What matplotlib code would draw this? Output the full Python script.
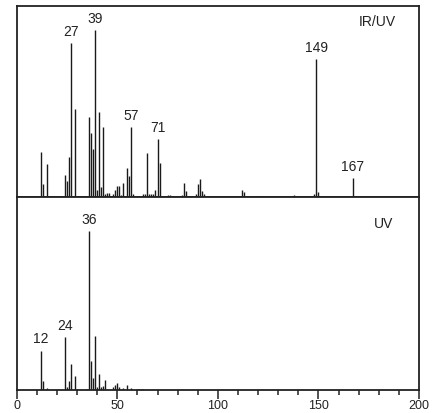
import matplotlib
matplotlib.use("Agg")
import matplotlib.pyplot as plt
from matplotlib.ticker import MultipleLocator

plt.rcParams['font.family'] = ['Liberation Sans', 'DejaVu Sans']

# IR/UV spectrum (m/z, relative intensity)
iruv_mz = [12, 13, 15, 24, 25, 26, 27, 29, 36, 37, 38, 39, 40, 41, 42, 43,
           44, 45, 46, 48, 49, 50, 51, 52, 53, 55, 56, 57, 58, 63, 64, 65,
           66, 67, 68, 69, 70, 71, 75, 76, 82, 83, 84, 89, 90, 91, 92, 93,
           112, 113, 121, 122, 138, 148, 149, 150, 167]
iruv_int = [23.7, 6.8, 17.3, 11.5, 8.5, 21.1, 80.8, 45.9, 41.7, 33.3, 25.0, 87.4, 3.7, 44.7, 5.4, 36.8,
            1.5, 2.3, 2.0, 1.4, 3.7, 5.8, 5.8, 1.0, 7.2, 15.0, 11.0, 36.8, 1.4, 1.4, 1.4, 23.2,
            1.4, 1.4, 1.4, 3.7, 30.4, 17.6, 1.0, 1.0, 1.0, 7.3, 3.0, 1.5, 6.8, 9.4, 3.1, 1.5,
            3.7, 2.6, 0.6, 0.6, 1.0, 1.5, 72.1, 2.6, 10.1]

# UV spectrum
uv_mz = [12, 13, 15, 24, 25, 26, 27, 29, 30, 35, 36, 37, 38, 39, 40, 41,
         42, 43, 44, 48, 49, 50, 51, 53, 55, 57, 60, 61, 62, 63]
uv_int = [20.4, 4.8, 1.0, 27.6, 1.7, 4.7, 13.5, 7.4, 0.5, 0.5, 82.5, 15.0, 6.3, 27.8, 1.5, 8.3,
          1.5, 2.0, 5.2, 1.3, 2.6, 3.4, 1.5, 0.8, 2.5, 0.9, 0.5, 0.5, 0.5, 0.5]

iruv_labels = [27, 39, 57, 70, 149, 167]
iruv_label_text = ['27', '39', '57', '71', '149', '167']
uv_labels = [12, 24, 36]
uv_label_text = ['12', '24', '36']

fig = plt.figure(figsize=(4.33, 4.13), dpi=100)
left, right = 16.7 / 433, 419 / 433
ax1 = fig.add_axes([left, 1 - 197 / 413, right - left, 191 / 413])
ax2 = fig.add_axes([left, 1 - 390 / 413, right - left, 193 / 413], sharex=ax1)

def draw(ax, mz, inten, lab_x, lab_t, name, nx, ny):
    ax.vlines(mz, 0, inten, color='#1a1a1a', linewidth=1.0)
    ax.set_xlim(0, 200)
    ax.set_ylim(0, 100)
    ax.set_yticks([])
    for s in ax.spines.values():
        s.set_linewidth(1.3)
        s.set_color('#222222')
    for x, t in zip(lab_x, lab_t):
        y = inten[mz.index(x)]
        ax.annotate(t, (x, y), xytext=(0, 3), textcoords='offset points',
                    ha='center', va='bottom', fontsize=10, color='#222222')
    ax.text(nx, ny, name, transform=ax.transAxes, ha='right', va='top',
            fontsize=10, color='#222222')

draw(ax1, iruv_mz, iruv_int, iruv_labels, iruv_label_text, 'IR/UV', 0.942, 0.955)
draw(ax2, uv_mz, uv_int, uv_labels, uv_label_text, 'UV', 0.937, 0.895)

ax1.tick_params(axis='x', which='both', bottom=False, labelbottom=False)
ax2.xaxis.set_major_locator(MultipleLocator(50))
ax2.xaxis.set_minor_locator(MultipleLocator(10))
ax2.tick_params(axis='x', which='major', direction='out', length=6.5, width=1.1,
                labelsize=9, pad=1.0, colors='#222222')
ax2.tick_params(axis='x', which='minor', direction='out', length=3.8, width=1.1,
                colors='#222222')

fig.savefig('out.png', dpi=100)
